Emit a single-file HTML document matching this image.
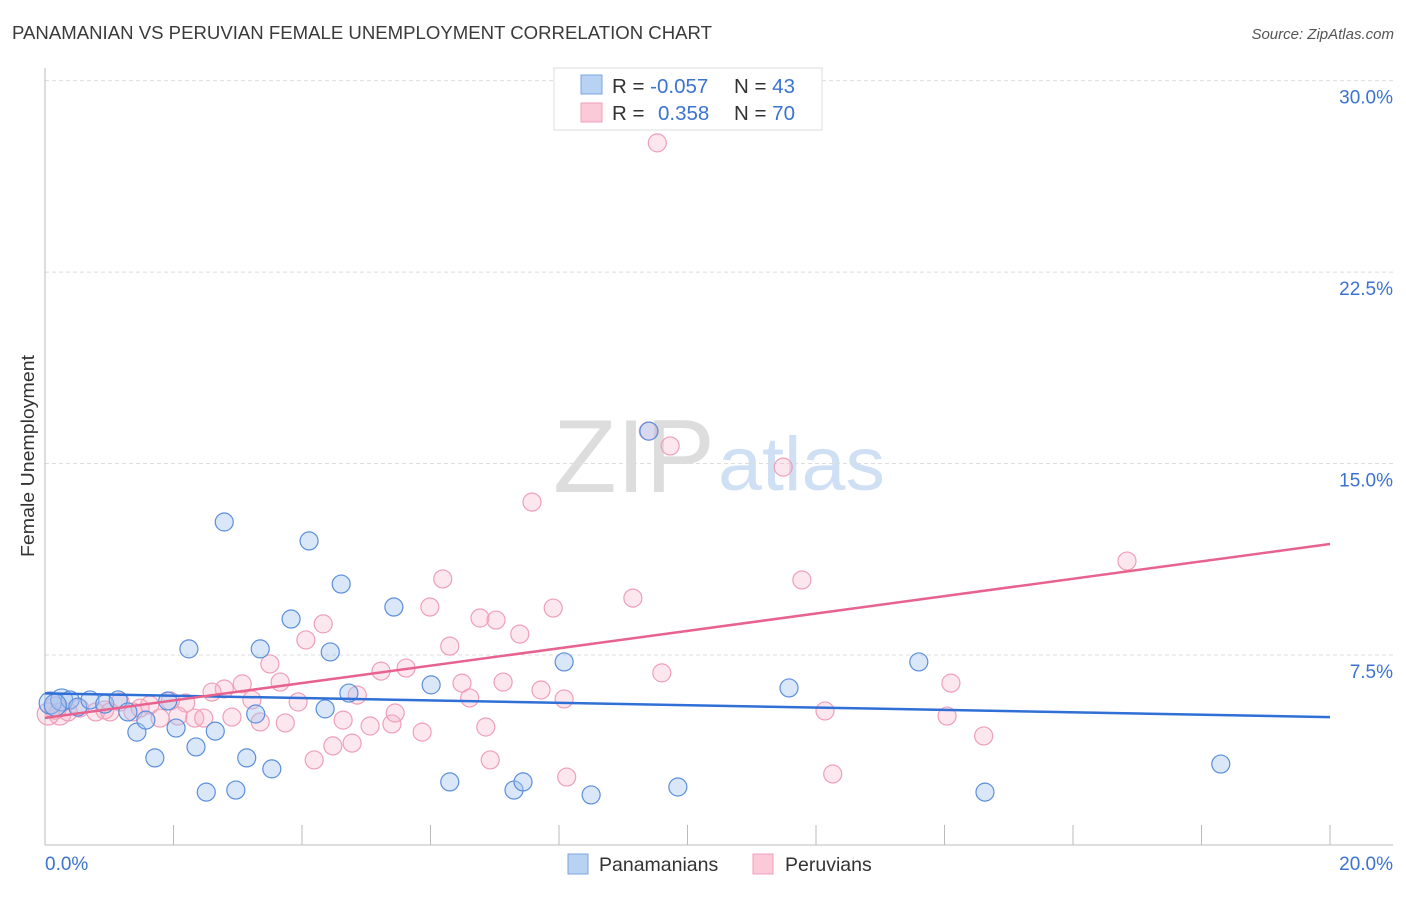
<!DOCTYPE html>
<html><head><meta charset="utf-8"><style>
body{margin:0;background:#fff;font-family:"Liberation Sans",sans-serif}
svg text{font-family:"Liberation Sans",sans-serif}
</style></head><body>
<svg id="chart" width="1406" height="892">
<text x="12" y="39" font-size="18" fill="#3a3a3a" textLength="700" lengthAdjust="spacingAndGlyphs">PANAMANIAN VS PERUVIAN FEMALE UNEMPLOYMENT CORRELATION CHART</text>
<text x="1394" y="39" font-size="15" fill="#555" font-style="italic" text-anchor="end">Source: ZipAtlas.com</text>
<g>
<text x="553" y="492" font-size="104" font-family="Liberation Serif" fill="#ddd" textLength="162" lengthAdjust="spacingAndGlyphs">ZIP</text>
<text x="718" y="490" font-size="76" fill="#cfe0f5" textLength="167" lengthAdjust="spacingAndGlyphs">atlas</text>
</g>
<g id="grid"></g>
<line x1="45" y1="68" x2="45" y2="845" stroke="#bbb"/>
<line x1="45" y1="845" x2="1393" y2="845" stroke="#bbb"/>
<text transform="translate(34,456) rotate(-90)" font-size="18" fill="#333" text-anchor="middle" textLength="202" lengthAdjust="spacingAndGlyphs">Female Unemployment</text>
<text x="45" y="870" font-size="19" fill="#3b73d0">0.0%</text>
<text x="1393" y="870" font-size="19" fill="#3b73d0" text-anchor="end">20.0%</text>
<g id="pts"></g>
<g id="lines"></g>
<g>
<rect x="554" y="68" width="268" height="62" fill="#fff" stroke="#ddd"/>
<rect x="581" y="75" width="21" height="19" fill="#b8d2f3" stroke="#7ba6e3"/>
<rect x="581" y="103" width="21" height="19" fill="#fbc9d7" stroke="#f0a0b8"/>
<text x="612" y="93" font-size="20.5" fill="#333">R = <tspan fill="#3b73d0">-0.057</tspan><tspan x="734">N = </tspan><tspan fill="#3b73d0">43</tspan></text>
<text x="612" y="120" font-size="20.5" fill="#333">R = <tspan x="658" fill="#3b73d0">0.358</tspan><tspan x="734">N = </tspan><tspan fill="#3b73d0">70</tspan></text>
</g>
<g>
<rect x="568" y="854" width="20" height="20" fill="#b8d2f3" stroke="#7ba6e3"/>
<text x="599" y="871" font-size="19.5" fill="#333">Panamanians</text>
<rect x="753" y="854" width="20" height="20" fill="#fbc9d7" stroke="#f0a0b8"/>
<text x="785" y="871" font-size="19.5" fill="#333">Peruvians</text>
</g>
</svg>
<script>
const yTicks=[7.5,15,22.5,30];
const yTickLabels=["7.5%","15.0%","22.5%","30.0%"];
const xTicks=[2,4,6,8,10,12,14,16,18,20];
const panX=[0.08,0.26,0.39,0.51,0.70,0.93,1.14,1.29,1.43,1.57,1.71,1.91,2.04,2.24,2.35,2.51,2.65,2.79,2.97,3.14,3.28,3.35,3.53,3.83,4.11,4.36,4.44,4.61,4.73,5.43,6.01,6.30,7.30,7.44,8.08,8.50,9.40,9.85,11.58,13.60,14.63,18.30,0.16];
const panY=[5.62,5.74,5.74,5.46,5.74,5.58,5.74,5.27,4.48,4.95,3.47,5.70,4.64,7.74,3.90,2.13,4.52,12.71,2.21,3.47,5.19,7.74,3.04,8.91,11.97,5.39,7.62,10.28,6.01,9.38,6.33,2.53,2.21,2.53,7.23,2.02,16.27,2.33,6.21,7.23,2.13,3.23,5.54];
const perX=[9.53,9.39,9.73,11.49,7.58,16.84,6.19,11.78,9.15,5.99,7.91,4.33,6.77,7.02,7.39,4.06,6.30,3.50,5.23,5.62,9.60,3.07,3.66,2.79,2.60,7.13,6.49,14.10,7.72,4.86,3.94,8.08,6.61,3.22,2.19,1.95,1.63,1.17,0.79,0.54,0.23,0.05,0.36,0.93,1.37,1.79,2.07,2.33,2.47,2.91,3.35,3.74,4.64,5.06,5.40,5.45,5.87,6.86,12.14,14.04,14.61,4.78,4.48,4.19,6.93,8.12,12.26,0.16,1.01,1.48];
const perY=[27.56,16.27,15.69,14.86,13.49,11.18,10.48,10.44,9.73,9.38,9.34,8.72,8.95,8.87,8.32,8.09,7.85,7.15,6.87,6.99,6.80,6.37,6.44,6.17,6.05,6.44,6.40,6.40,6.13,5.93,5.66,5.78,5.82,5.74,5.62,5.70,5.54,5.66,5.27,5.42,5.19,5.19,5.27,5.35,5.27,5.03,5.11,5.03,5.03,5.07,4.88,4.84,4.95,4.72,4.80,5.23,4.48,4.68,5.31,5.11,4.33,4.05,3.94,3.39,3.39,2.72,2.84,5.42,5.27,5.42];
const panTrend=[6.0,5.07];
const perTrend=[5.04,11.85];
const NS="http://www.w3.org/2000/svg";
const sx=v=>45+v*64.25, sy=v=>846.5-v*25.53;
function mk(tag,attrs,parent){const e=document.createElementNS(NS,tag);for(const k in attrs)e.setAttribute(k,attrs[k]);parent.appendChild(e);return e;}
const grid=document.getElementById('grid');
yTicks.forEach((t,i)=>{
  const l=mk('line',{x1:45,x2:1393,y1:sy(t),y2:sy(t),stroke:'#ddd','stroke-dasharray':'4,3'},grid);
  
  
  const tx=mk('text',{x:1393,y:sy(t)+23,'font-size':19,fill:'#3b73d0','text-anchor':'end'},grid);
  tx.textContent=yTickLabels[i];
  
  
});
xTicks.forEach(t=>{
  const l=mk('line',{x1:sx(t),x2:sx(t),y1:825,y2:845,stroke:'#bbb'},grid);
  
  
});
const pts=document.getElementById('pts');
perX.forEach((x,i)=>{
  const c=mk('circle',{cx:sx(x),cy:sy(perY[i]),r:x<0.3?11:9,fill:'rgba(248,175,198,0.3)',stroke:'#ef9fb8','stroke-width':1.2},pts);
  
  
});
panX.forEach((x,i)=>{
  const c=mk('circle',{cx:sx(x),cy:sy(panY[i]),r:x<0.3?11:9,fill:'rgba(160,195,240,0.4)',stroke:'#5b8fdc','stroke-width':1.2},pts);
  
  
});
const lines=document.getElementById('lines');
const l1=mk('line',{x1:sx(0),x2:sx(20),y1:sy(panTrend[0]),y2:sy(panTrend[1]),stroke:'#2f6fd6','stroke-width':2.5},lines);


const l2=mk('line',{x1:sx(0),x2:sx(20),y1:sy(perTrend[0]),y2:sy(perTrend[1]),stroke:'#e8628e','stroke-width':2.5},lines);


</script>
</body></html>
